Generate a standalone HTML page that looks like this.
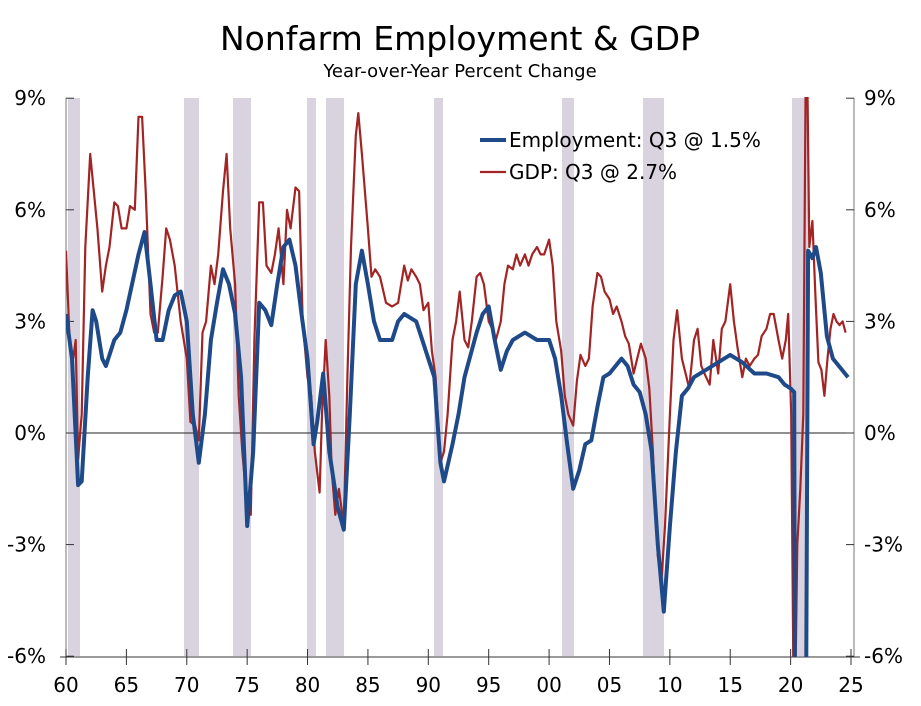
<!DOCTYPE html>
<html><head><meta charset="utf-8"><style>
html,body{margin:0;padding:0;background:#fff;width:921px;height:706px;overflow:hidden;}
svg{display:block;font-family:"DejaVu Sans","Liberation Sans",sans-serif;}
</style></head><body>
<svg id="c" width="921" height="706" viewBox="0 0 921 706" xmlns="http://www.w3.org/2000/svg">
<defs><clipPath id="pc"><rect x="66" y="97" width="788" height="560"/></clipPath></defs>
<text x="460" y="50" font-size="33" text-anchor="middle" fill="#000">Nonfarm Employment &amp; GDP</text>
<text x="460" y="77" font-size="18" text-anchor="middle" fill="#000">Year-over-Year Percent Change</text>
<g fill="#d8d3de">
<rect x="68" y="98" width="12" height="558"/>
<rect x="184" y="98" width="15" height="558"/>
<rect x="233" y="98" width="18" height="558"/>
<rect x="307" y="98" width="9" height="558"/>
<rect x="326" y="98" width="18" height="558"/>
<rect x="434" y="98" width="9" height="558"/>
<rect x="562" y="98" width="12" height="558"/>
<rect x="643" y="98" width="21" height="558"/>
<rect x="792" y="98" width="16" height="558"/>
</g>
<line x1="66" y1="98" x2="66" y2="657" stroke="#777" stroke-width="1"/>
<line x1="854" y1="98" x2="854" y2="657" stroke="#777" stroke-width="1"/>
<line x1="66" y1="433" x2="854" y2="433" stroke="#222" stroke-width="1"/>
<line x1="60" y1="657" x2="860" y2="657" stroke="#333" stroke-width="1"/>
<g id="ticks" stroke="#333" stroke-width="1"></g>
<g id="labels" font-size="20" fill="#000"></g>
<g clip-path="url(#pc)">
<polyline id="gdp" fill="none" stroke="#a32424" stroke-width="2.2" stroke-linejoin="round"/>
<polyline id="emp" fill="none" stroke="#1f4a8a" stroke-width="4" stroke-linejoin="round"/>
</g>
<line x1="480" y1="140" x2="506" y2="140" stroke="#1f4a8a" stroke-width="4"/>
<text x="509" y="147" font-size="20">Employment: Q3 @ 1.5%</text>
<line x1="480" y1="172" x2="506" y2="172" stroke="#a32424" stroke-width="2.2"/>
<text x="509" y="179" font-size="20">GDP: Q3 @ 2.7%</text>
</svg>
<script>
var X=function(y){return 66+(y-1960)*12.077;},Y=function(v){return 433-v*37.2;};
var NS="http://www.w3.org/2000/svg";
function el(p,t,a,txt){var e=document.createElementNS(NS,t);for(var k in a)e.setAttribute(k,a[k]);if(txt!=null)e.textContent=txt;document.getElementById(p).appendChild(e);}
for(var v=-6;v<=9;v+=3){var y=Y(v);
 el("ticks","line",{x1:66,y1:y,x2:74,y2:y});el("ticks","line",{x1:846,y1:y,x2:854,y2:y});
 var s=v+"%";el("labels","text",{x:46,y:y+7,"text-anchor":"end"},s);el("labels","text",{x:864,y:y+7},s);}
for(var yr=1960;yr<=2025;yr+=5){var x=X(yr);el("ticks","line",{x1:x,y1:649,x2:x,y2:665});
 el("labels","text",{x:x,y:692,"text-anchor":"middle"},String(yr%100).padStart(2,"0"));}
var emp=[1960,3.2,1960.5,2.0,1961,-1.4,1961.3,-1.3,1961.8,1.5,1962.2,3.3,1962.5,3.0,1963,2.0,1963.3,1.8,1964,2.5,1964.5,2.7,1965,3.3,1966,4.8,1966.5,5.4,1967,4.0,1967.5,2.5,1968,2.5,1968.5,3.3,1969,3.7,1969.5,3.8,1970,3.0,1970.5,0.5,1971,-0.8,1971.5,0.5,1972,2.5,1972.5,3.5,1973,4.4,1973.5,4.0,1974,3.2,1974.5,1.5,1975,-2.5,1975.5,-0.5,1976,3.5,1976.5,3.3,1977,2.9,1977.5,4.0,1978,5.0,1978.5,5.2,1979,4.5,1979.5,3.2,1980,2.0,1980.5,-0.3,1980.8,0.3,1981.3,1.6,1981.8,-0.5,1982.5,-2.0,1983,-2.6,1983.5,0.5,1984,4.0,1984.5,4.9,1985,4.0,1985.5,3.0,1986,2.5,1987,2.5,1987.5,3.0,1988,3.2,1989,3.0,1989.5,2.5,1990,2.0,1990.5,1.5,1991,-0.8,1991.3,-1.3,1992,-0.3,1992.5,0.5,1993,1.5,1994,2.7,1994.5,3.2,1995,3.4,1995.5,2.5,1996,1.7,1996.5,2.2,1997,2.5,1998,2.7,1999,2.5,2000,2.5,2000.5,2.0,2001,1.0,2001.5,-0.3,2002,-1.5,2002.5,-1.0,2003,-0.3,2003.5,-0.2,2004,0.7,2004.5,1.5,2005,1.6,2006,2.0,2006.5,1.8,2007,1.3,2007.5,1.1,2008,0.5,2008.5,-0.5,2009,-3.0,2009.5,-4.8,2010,-2.5,2010.5,-0.5,2011,1.0,2011.5,1.2,2012,1.5,2013,1.7,2014,1.9,2015,2.1,2016,1.9,2017,1.6,2018,1.6,2019,1.5,2019.5,1.3,2020,1.2,2020.3,1.1,2020.4,-13,2021.3,-6,2021.45,4.9,2021.8,4.7,2022.1,5.0,2022.5,4.3,2023,2.6,2023.5,2.0,2024,1.8,2024.75,1.5];
var gdp=[1960,4.9,1960.3,2.5,1960.6,2.0,1960.8,2.5,1961,-0.7,1961.3,0.5,1961.6,5.0,1962,7.5,1962.3,6.5,1962.6,5.5,1963,3.8,1963.3,4.5,1963.6,5.0,1964,6.2,1964.3,6.1,1964.6,5.5,1965,5.5,1965.3,6.1,1965.7,6.0,1966,8.5,1966.3,8.5,1966.6,6.5,1967,3.2,1967.3,2.7,1967.6,2.7,1968,4.2,1968.3,5.5,1968.6,5.2,1969,4.5,1969.5,3.0,1970,2.0,1970.3,0.3,1970.7,0.2,1971,-0.2,1971.3,2.7,1971.6,3.0,1972,4.5,1972.3,4.0,1972.6,4.8,1973,6.5,1973.3,7.5,1973.6,5.5,1974,4.0,1974.3,1.0,1974.6,-0.5,1975,-2.0,1975.3,-2.2,1975.6,2.5,1976,6.2,1976.3,6.2,1976.6,4.5,1977,4.3,1977.3,4.8,1977.6,5.5,1978,4.0,1978.3,6.0,1978.6,5.5,1979,6.6,1979.3,6.5,1979.6,3.0,1980,1.5,1980.3,1.0,1980.6,-0.5,1981,-1.6,1981.2,0.5,1981.5,2.5,1981.8,1.0,1982,-1.0,1982.3,-2.2,1982.6,-1.5,1983,-2.5,1983.3,1.5,1983.6,5.0,1984,8.0,1984.2,8.6,1984.5,7.5,1985,5.5,1985.3,4.2,1985.6,4.4,1986,4.2,1986.5,3.5,1987,3.4,1987.5,3.5,1988,4.5,1988.3,4.1,1988.6,4.4,1989,4.2,1989.3,4.0,1989.6,3.3,1990,3.5,1990.3,2.2,1990.6,1.5,1991,-0.8,1991.3,-0.5,1991.6,0.5,1992,2.5,1992.3,3.0,1992.6,3.8,1993,2.5,1993.3,2.3,1993.6,3.0,1994,4.2,1994.3,4.3,1994.6,4.0,1995,3.0,1995.3,2.8,1995.6,2.5,1996,3.0,1996.3,4.0,1996.6,4.5,1997,4.4,1997.3,4.8,1997.6,4.5,1998,4.8,1998.3,4.5,1998.6,4.8,1999,5.0,1999.3,4.8,1999.6,4.8,2000,5.2,2000.3,4.5,2000.6,3.0,2001,2.2,2001.3,1.0,2001.6,0.5,2002,0.2,2002.3,1.4,2002.6,2.1,2003,1.8,2003.3,2.0,2003.6,3.4,2004,4.3,2004.3,4.2,2004.6,3.8,2005,3.6,2005.3,3.2,2005.6,3.4,2006,3.0,2006.3,2.6,2006.6,2.4,2007,1.6,2007.3,2.0,2007.6,2.4,2008,2.0,2008.3,1.2,2008.6,-0.5,2009,-3.3,2009.3,-4.0,2009.6,-2.5,2010,0.5,2010.3,2.5,2010.6,3.3,2011,2.0,2011.3,1.6,2011.6,1.2,2012,2.5,2012.3,2.8,2012.6,1.8,2013,1.5,2013.3,1.3,2013.6,2.5,2014,1.6,2014.3,2.8,2014.6,3.0,2015,4.0,2015.3,3.0,2015.6,2.3,2016,1.5,2016.3,2.0,2016.6,1.8,2017,2.0,2017.3,2.1,2017.6,2.6,2018,2.8,2018.3,3.2,2018.6,3.2,2019,2.5,2019.3,2.0,2019.6,2.5,2019.8,3.2,2020.05,0.5,2020.3,-9,2020.55,-3,2020.8,-1.5,2021.05,0.5,2021.3,12,2021.55,5,2021.8,5.7,2022.05,3.7,2022.3,1.9,2022.55,1.7,2022.8,1.0,2023.05,2.0,2023.3,2.8,2023.55,3.2,2023.8,3.0,2024.05,2.9,2024.3,3.0,2024.55,2.7];
function pts(a){var s=[];for(var i=0;i<a.length;i+=2)s.push(X(a[i]).toFixed(1)+","+Y(a[i+1]).toFixed(1));return s.join(" ");}
document.getElementById("emp").setAttribute("points",pts(emp));
document.getElementById("gdp").setAttribute("points",pts(gdp));
</script>
</body></html>
